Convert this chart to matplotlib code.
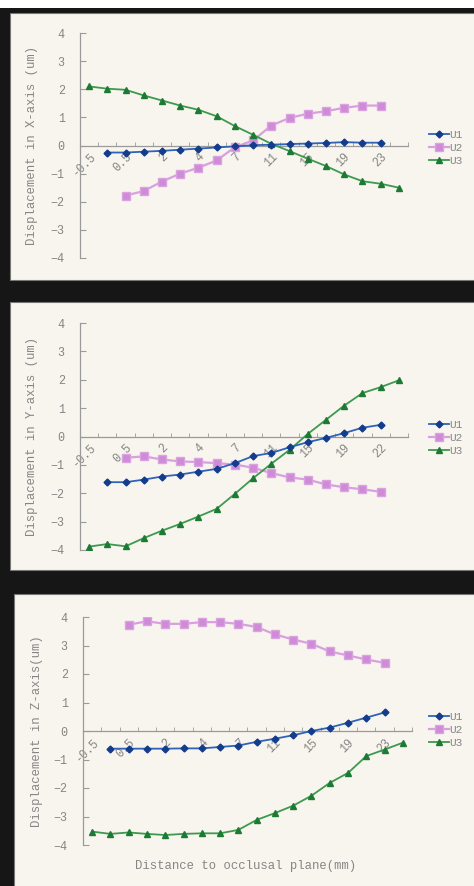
import numpy as np
import matplotlib
matplotlib.use('Agg')
import matplotlib.pyplot as plt
from matplotlib.patches import Rectangle

# 18 categories (distance to occlusal plane), label on every other one
n_cat = 18
lab_x = ['-0.5', '0.5', '2', '4', '7', '11', '15', '19', '23']
lab_y = ['-0.5', '0.5', '2', '4', '7', '11', '15', '19', '22']
lab_z = ['-0.5', '0.5', '2', '4', '7', '11', '15', '19', '23']

# X-axis displacement (um)
x_u1 = [-0.25, -0.25, -0.22, -0.19, -0.15, -0.11, -0.07, -0.03, 0.01, 0.03,
        0.05, 0.07, 0.09, 0.12, 0.10, 0.10]
x_u2 = [-1.78, -1.62, -1.28, -1.00, -0.79, -0.53, -0.06, 0.18, 0.71, 0.98,
        1.13, 1.22, 1.34, 1.42, 1.42]
x_u3 = [2.10, 2.02, 1.98, 1.78, 1.60, 1.42, 1.27, 1.04, 0.69, 0.38, 0.06,
        -0.20, -0.47, -0.73, -1.03, -1.27, -1.36, -1.50]

# Y-axis displacement (um)
y_u1 = [-1.61, -1.61, -1.52, -1.41, -1.34, -1.24, -1.14, -0.94, -0.69, -0.58,
        -0.38, -0.20, -0.05, 0.12, 0.31, 0.41]
y_u2 = [-0.75, -0.70, -0.81, -0.88, -0.90, -0.94, -0.99, -1.10, -1.29, -1.44,
        -1.52, -1.69, -1.79, -1.86, -1.95]
y_u3 = [-3.88, -3.79, -3.87, -3.58, -3.32, -3.08, -2.82, -2.55, -2.02, -1.47,
        -0.96, -0.47, 0.09, 0.59, 1.09, 1.53, 1.74, 1.98]

# Z-axis displacement (um)
z_u1 = [-0.62, -0.62, -0.62, -0.62, -0.61, -0.61, -0.56, -0.51, -0.38, -0.27,
        -0.15, 0.00, 0.12, 0.29, 0.47, 0.65]
z_u2 = [3.73, 3.85, 3.76, 3.76, 3.82, 3.82, 3.76, 3.65, 3.39, 3.21, 3.06,
        2.79, 2.65, 2.51, 2.39]
z_u3 = [-3.53, -3.61, -3.56, -3.61, -3.65, -3.61, -3.59, -3.59, -3.47, -3.12,
        -2.88, -2.62, -2.27, -1.82, -1.47, -0.88, -0.65, -0.41]

W, H = 474, 886
cream = '#f8f5ee'
grey = '#858585'
mono = ['Liberation Mono', 'DejaVu Sans Mono']

fig = plt.figure(figsize=(W / 100, H / 100), dpi=100, facecolor='#161616')


def px_box(x0, y0, x1, y1):
    # pixel box (top-left origin) -> figure fractions
    return [x0 / W, 1 - y1 / H, (x1 - x0) / W, (y1 - y0) / H]


def px_rect(x0, y0, x1, y1, fc, ec='none'):
    l, b, w, h = px_box(x0, y0, x1, y1)
    r = Rectangle((l, b), w, h, transform=fig.transFigure, facecolor=fc,
                  edgecolor=ec, lw=0.8, zorder=-5)
    fig.add_artist(r)


def draw_panel(box, u1, u2, u3, labels, ylabel, ylab_x, leg_y):
    ax = fig.add_axes(px_box(*box))
    ax.set_facecolor('none')
    cats = np.arange(1, n_cat + 1)
    ax.plot(cats[1:1 + len(u1)], u1, color='#2f63b8', lw=1.3, marker='D', ms=3.5,
            mfc='#143c8c', mec='#143c8c', label='U1', zorder=4)
    ax.plot(cats[2:2 + len(u2)], u2, color='#d99fe0', lw=1.6, marker='s', ms=5.2,
            mfc='#d08bd8', mec='#d9a3df', label='U2', zorder=3)
    ax.plot(cats[:len(u3)], u3, color='#3c9a4e', lw=1.3, marker='^', ms=4.2,
            mfc='#1d7a35', mec='#1d7a35', label='U3', zorder=3)

    ax.set_xlim(0.5, n_cat + 0.5)
    ax.set_ylim(-4, 4)
    for s in ['top', 'right']:
        ax.spines[s].set_visible(False)
    ax.spines['bottom'].set_position(('data', 0))
    for s in ['left', 'bottom']:
        ax.spines[s].set_color('#9a9a9a')
        ax.spines[s].set_linewidth(0.9)

    ax.set_yticks(np.arange(-4, 5, 1))
    ax.set_yticklabels([str(v).replace('-', '\u2212') for v in range(-4, 5)],
                       family=mono, fontsize=8.5, color=grey)
    ax.tick_params(axis='y', direction='in', length=4, color='#9a9a9a', pad=11)

    ax.set_xticks(np.arange(0.5, n_cat + 1, 1), minor=True)
    ax.set_xticks(cats[::2])
    ax.set_xticklabels(labels, family=mono, fontsize=8.5, color=grey,
                       rotation=45, ha='right', va='top', rotation_mode='anchor')
    ax.tick_params(axis='x', which='major', length=0, pad=4)
    ax.tick_params(axis='x', which='minor', direction='in', length=3,
                   color='#9a9a9a')

    fig.text(ylab_x / W, 1 - (box[1] + box[3]) / 2 / H, ylabel, rotation=90,
             ha='center', va='center', family=mono, fontsize=8.8, color=grey)

    ax.legend(loc='center left', bbox_to_anchor=(423 / W, 1 - leg_y / H),
              bbox_transform=fig.transFigure, frameon=False, handlelength=1.8,
              handletextpad=0.1, labelspacing=0.3, borderpad=0,
              prop={'family': mono, 'size': 8}, labelcolor=grey)
    return ax


# white strip at the very top, then the three cream panels on black
px_rect(0, 0, W, 8, 'white')
px_rect(10, 13, W + 2, 280, cream, '#777777')
px_rect(10, 302, W + 2, 570, cream, '#777777')
px_rect(14, 594, W + 2, H + 4, cream, '#777777')

draw_panel((80, 33, 408, 258), x_u1, x_u2, x_u3, lab_x,
           'Displacement in X-axis (um)', 32, 148)
draw_panel((80, 323, 408, 550), y_u1, y_u2, y_u3, lab_y,
           'Displacement in Y-axis (um)', 32, 438)
draw_panel((83, 617, 412, 845), z_u1, z_u2, z_u3, lab_z,
           'Displacement in Z-axis(um)', 37, 730)

fig.text(246 / W, 1 - 866 / H, 'Distance to occlusal plane(mm)', ha='center',
         va='center', family=mono, fontsize=8.8, color=grey)

fig.savefig('out.png', dpi=100, facecolor=fig.get_facecolor())
